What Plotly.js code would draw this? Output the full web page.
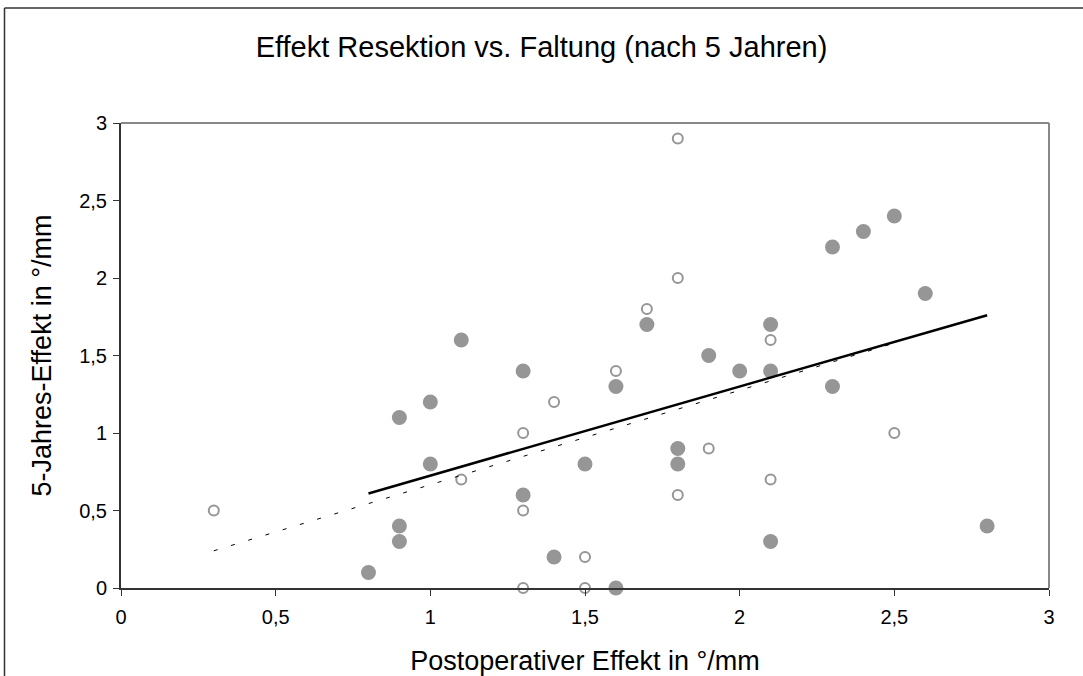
<!DOCTYPE html>
<html>
<head>
<meta charset="utf-8">
<script src="https://cdn.plot.ly/plotly-3.0.1.min.js"></script>
<style>html,body{margin:0;padding:0;background:#fff;}#chart{width:1083px;height:676px;}</style>
</head>
<body>
<div id="chart"></div>
<script>
// Resektion (filled markers)
const resektionX = [0.8, 0.9, 0.9, 0.9, 1.0, 1.0, 1.1, 1.3, 1.3, 1.4, 1.5, 1.6, 1.6, 1.7, 1.8, 1.8, 1.9, 2.0, 2.1, 2.1, 2.1, 2.3, 2.3, 2.4, 2.5, 2.6, 2.8];
const resektionY = [0.1, 1.1, 0.4, 0.3, 1.2, 0.8, 1.6, 1.4, 0.6, 0.2, 0.8, 1.3, 0.0, 1.7, 0.9, 0.8, 1.5, 1.4, 1.7, 1.4, 0.3, 2.2, 1.3, 2.3, 2.4, 1.9, 0.4];
// Faltung (open markers)
const faltungX = [0.3, 1.1, 1.3, 1.3, 1.3, 1.4, 1.5, 1.5, 1.6, 1.7, 1.8, 1.8, 1.8, 1.9, 2.1, 2.1, 2.5];
const faltungY = [0.5, 0.7, 1.0, 0.5, 0.0, 1.2, 0.2, 0.0, 1.4, 1.8, 2.9, 2.0, 0.6, 0.9, 1.6, 0.7, 1.0];
// Trendlines
const trendResektionX = [0.8, 2.8];
const trendResektionY = [0.61, 1.76];
const trendFaltungX = [0.3, 2.5];
const trendFaltungY = [0.24, 1.58];
const tickVals = [0, 0.5, 1, 1.5, 2, 2.5, 3];
const tickText = ['0', '0,5', '1', '1,5', '2', '2,5', '3'];

const grey = '#969696';
const font = 'Liberation Sans, Arial, sans-serif';

const traces = [
  {x: resektionX, y: resektionY, type: 'scatter', mode: 'markers', name: 'Resektion',
   marker: {color: grey, size: 15, line: {width: 0}}, cliponaxis: false},
  {x: faltungX, y: faltungY, type: 'scatter', mode: 'markers', name: 'Faltung',
   marker: {symbol: 'circle-open', color: grey, size: 10, line: {width: 2, color: grey}}, cliponaxis: false},
  {x: trendFaltungX, y: trendFaltungY, type: 'scatter', mode: 'lines', name: 'Trend Faltung',
   line: {color: '#000', width: 1, dash: '4px,14px'}},
  {x: trendResektionX, y: trendResektionY, type: 'scatter', mode: 'lines', name: 'Trend Resektion',
   line: {color: '#000', width: 2.5}}
];

const L = 121, R = 1049, T = 123, B = 588;
const pw = R - L, ph = B - T;
function px(x){ return (x - L) / pw; }
function py(y){ return (B - y) / ph; }

const layout = {
  width: 1083, height: 676,
  margin: {l: L, r: 1083 - R, t: T, b: 676 - B, pad: 0},
  paper_bgcolor: '#fff', plot_bgcolor: '#fff',
  showlegend: false,
  separators: ',.',
  font: {family: font, color: '#000'},
  title: {text: 'Effekt Resektion vs. Faltung (nach 5 Jahren)', font: {family: font, size: 29, color: '#000'},
          x: 0.5, xanchor: 'center', y: 1 - 47/676, yanchor: 'middle', xref: 'container', yref: 'container'},
  xaxis: {range: [0, 3], tickvals: tickVals, ticktext: tickText, showgrid: false, zeroline: false,
          showline: true, linecolor: '#333', linewidth: 2, ticks: 'outside', ticklen: 6, tickcolor: '#333', tickwidth: 1,
          ticklabelstandoff: 4,
          tickfont: {family: font, size: 20, color: '#000'},
          title: {text: 'Postoperativer Effekt in °/mm', font: {family: font, size: 27, color: '#000'}, standoff: 24}},
  yaxis: {range: [0, 3], tickvals: tickVals, ticktext: tickText, showgrid: false, zeroline: false,
          showline: true, linecolor: '#333', linewidth: 2, ticks: 'outside', ticklen: 6, tickcolor: '#333', tickwidth: 1,
          ticklabelstandoff: 2,
          tickfont: {family: font, size: 20, color: '#000'},
          title: {text: '5-Jahres-Effekt in °/mm', font: {family: font, size: 27, color: '#000'}, standoff: 20}},
  shapes: [
    // plot area border (top and right)
    {type: 'line', xref: 'paper', yref: 'paper', x0: 0, x1: 1, y0: 1, y1: 1, line: {color: '#888', width: 2}},
    {type: 'line', xref: 'paper', yref: 'paper', x0: 1, x1: 1, y0: 0, y1: 1, line: {color: '#888', width: 2}},
    // chart frame
    {type: 'line', xref: 'paper', yref: 'paper', x0: px(4.5), x1: px(4.5), y0: py(8), y1: py(700), line: {color: '#333', width: 1.5}},
    {type: 'line', xref: 'paper', yref: 'paper', x0: px(4.5), x1: px(1100), y0: py(8), y1: py(8), line: {color: '#333', width: 1.5}}
  ]
};

Plotly.newPlot('chart', traces, layout, {displayModeBar: false, staticPlot: true});
</script>
</body>
</html>
